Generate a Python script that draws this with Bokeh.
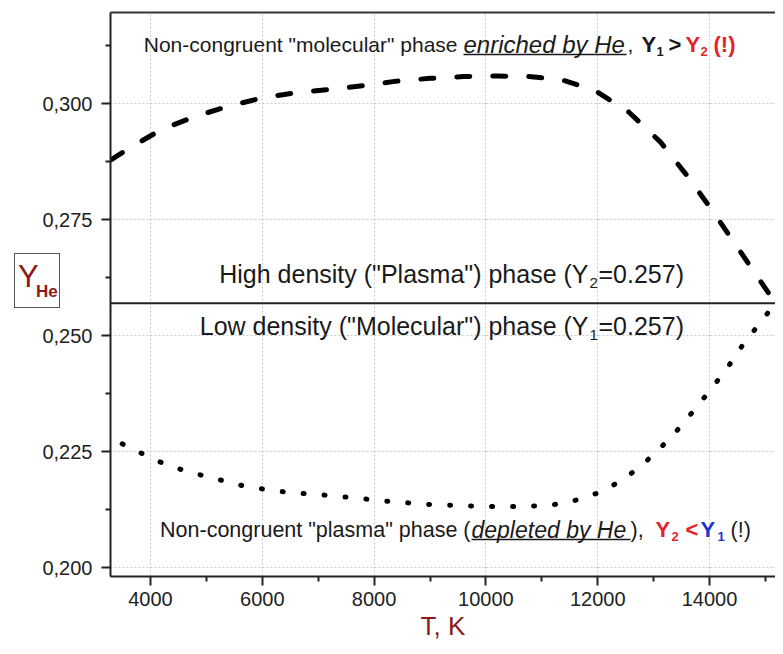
from bokeh.plotting import figure
from bokeh.models import Range1d, FixedTicker, CustomJSTickFormatter, Label, Span, Div, LinearAxis
from bokeh.layouts import column
from bokeh.embed import file_html
from bokeh.resources import INLINE

# ---- data ----
T_upper = [3300, 3600, 4200, 4800, 5400, 6000, 6600, 7200, 7800, 8400, 9000, 9600,
           10200, 10750, 11350, 11950, 12550, 13120, 13600, 14050, 14470, 14870, 15080]
Y_upper = [0.2880, 0.2903, 0.2945, 0.2973, 0.2995, 0.3013, 0.3024, 0.3031, 0.3039, 0.3049,
           0.3055, 0.3059, 0.3060, 0.3059, 0.3052, 0.3029, 0.2983, 0.2918, 0.2845, 0.2770,
           0.2696, 0.2625, 0.2588]
T_lower = [3494, 3852, 4209, 4567, 4925, 5283, 5640, 5998, 6356, 6714, 7072, 7430, 7787,
           8145, 8503, 8861, 9218, 9576, 9934, 10292, 10649, 11007, 11365, 11723, 12069,
           12427, 12785, 13142, 13482, 13787, 14073, 14359, 14609, 14895, 15060]
Y_lower = [0.2267, 0.2246, 0.2226, 0.2211, 0.2199, 0.2188, 0.2177, 0.2170, 0.2164, 0.2160,
           0.2157, 0.2153, 0.2149, 0.2144, 0.2141, 0.2137, 0.2135, 0.2134, 0.2132, 0.2132,
           0.2132, 0.2134, 0.2138, 0.2149, 0.2164, 0.2188, 0.2220, 0.2261, 0.2304, 0.2349,
           0.2392, 0.2438, 0.2483, 0.2526, 0.2552]
Y_equal = 0.257
x_major = [4000, 6000, 8000, 10000, 12000, 14000]
x_minor = [5000, 7000, 9000, 11000, 13000, 15000]
y_major = [0.200, 0.225, 0.250, 0.275, 0.300]
y_minor = [0.2125, 0.2375, 0.2625, 0.2875, 0.3125]

X0, X1 = 3285, 15180
Y0, Y1 = 0.1981, 0.3197
W, H = 775, 646
FL, FR, FT, FB = 110, 0, 12, 70  # frame borders in figure pixels

p = figure(width=W, height=H, output_backend="svg", toolbar_location=None,
           x_range=Range1d(X0, X1), y_range=Range1d(Y0, Y1),
           min_border_left=FL, min_border_right=FR, min_border_top=FT, min_border_bottom=FB)
p.background_fill_color = "white"
p.border_fill_color = "white"
p.outline_line_color = None

fw = W - FL - FR
fh = H - FT - FB

def X(rx):
    # picture pixel -> data x
    return X0 + (rx - FL) * (X1 - X0) / fw

def Y(ry):
    return Y1 - (ry - FT) * (Y1 - Y0) / fh

for ax in (p.xaxis[0], p.yaxis[0]):
    ax.axis_line_width = 2
    ax.axis_line_color = "#222222"
    ax.major_tick_line_width = 2
    ax.minor_tick_line_width = 2
    ax.major_tick_line_color = "#222222"
    ax.minor_tick_line_color = "#222222"
    ax.major_tick_in = 0
    ax.major_tick_out = 9
    ax.minor_tick_in = 0
    ax.minor_tick_out = 5
    ax.major_label_text_font = "Liberation Sans"
    ax.major_label_text_font_size = "20px"
    ax.major_label_text_color = "#222222"

p.xaxis.ticker = FixedTicker(ticks=x_major, minor_ticks=x_minor)
p.yaxis.ticker = FixedTicker(ticks=y_major, minor_ticks=y_minor)
p.yaxis.formatter = CustomJSTickFormatter(code="return tick.toFixed(3).replace('.', ',');")
p.xaxis.major_label_standoff = 6
p.yaxis.major_label_standoff = 9
p.xaxis.axis_label = "T, K"
p.xaxis.axis_label_text_font = "Liberation Sans"
p.xaxis.axis_label_text_font_size = "26px"
p.xaxis.axis_label_text_font_style = "normal"
p.xaxis.axis_label_text_color = "#8b1a1a"
p.xaxis.axis_label_standoff = 2

# top border of the frame (the right border is outside the picture)
top_axis = LinearAxis(ticker=FixedTicker(ticks=[], minor_ticks=[]), axis_line_width=2,
                      axis_line_color="#333333", major_tick_line_color=None,
                      minor_tick_line_color=None)
p.add_layout(top_axis, "above")

for g in (p.xgrid[0], p.ygrid[0]):
    g.grid_line_color = "#c8c8c8"
    g.grid_line_dash = "2 2"
    g.grid_line_width = 1

# curves
p.line(T_upper, Y_upper, line_color="black", line_width=5, line_dash="13 23", line_cap="round")
p.line(T_lower, Y_lower, line_color="black", line_width=5, line_dash="1 20", line_cap="round")
p.add_layout(Span(location=Y_equal, dimension="width", line_color="#222222", line_width=2))

SANS = "Liberation Sans"
DARK = "#1a1a1a"
RED = "#e3232c"
BLUE = "#2233cc"
DRED = "#8b1a1a"

def add(text, rx, ry, size, color=DARK, style="normal", align="left", font=SANS, **kw):
    lab = Label(x=X(rx), y=Y(ry), text=text, text_font=font, text_font_size=f"{size}px",
                text_color=color, text_font_style=style, text_align=align,
                text_baseline="middle", **kw)
    p.add_layout(lab)
    return lab

# top annotation
TC = 44
add('Non-congruent "molecular" phase', 457, TC, 21, align="right")
add("enriched by He", 463, TC, 24, style="italic")
p.segment(x0=[X(463)], y0=[Y(TC + 10)], x1=[X(626)], y1=[Y(TC + 10)], line_color=DARK, line_width=1.5)
add(",", 627, TC, 21)
add("Y", 641, TC, 22, style="bold")
add("1", 656, TC + 7, 13, style="bold")
add(">", 668, TC, 22, style="bold")
add("Y", 685, TC, 22, style="bold", color=RED)
add("2", 700, TC + 7, 13, style="bold", color=RED)
add("(!)", 713, TC, 22, style="bold", color=RED)

# bottom annotation
BC = 529
add('Non-congruent "plasma" phase (', 470, BC, 21.5, align="right")
add("depleted by He", 471, BC, 23, style="italic")
p.segment(x0=[X(471)], y0=[Y(BC + 10)], x1=[X(630)], y1=[Y(BC + 10)], line_color=DARK, line_width=1.5)
add("),", 630, BC, 21.5)
add("Y", 655, BC, 22, style="bold", color=RED)
add("2", 671, BC + 7, 13, style="bold", color=RED)
add("<", 685, BC, 22, style="bold", color=RED)
add("Y", 700, BC, 22, style="bold", color=BLUE)
add("1", 717, BC + 7, 13, style="bold", color=BLUE)
add("(!)", 730, BC, 21.5)

# middle annotations
HC = 273
add('High density ("Plasma") phase (Y', 588, HC, 25, align="right")
add("2", 589, HC + 9, 15)
add("=0.257)", 598, HC, 25)
LC = 325
add('Low density ("Molecular") phase (Y', 588, LC, 25, align="right")
add("1", 589, LC + 9, 15)
add("=0.257)", 598, LC, 25)

# boxed Y_He axis title, laid over the left border of the plot
box_html = (
    '<div style="position:relative;box-sizing:border-box;width:46px;height:55px;'
    'border:1.5px solid #555555;background:white;color:#8b1a1a;'
    'font-family:\'Liberation Sans\',sans-serif;">'
    '<span style="position:absolute;left:3px;top:7px;font-size:31px;line-height:31px;">Y</span>'
    '<span style="position:absolute;left:21px;top:29px;font-size:17px;line-height:17px;'
    'font-weight:bold;">He</span></div>'
)
ylab = Div(text=box_html, width=46, height=55, margin=(253 - H, 0, 0, 14),
           styles={"position": "relative", "z-index": "10"})

layout = column(p, ylab, spacing=0)
open("out.html", "w").write(file_html(layout, INLINE))
